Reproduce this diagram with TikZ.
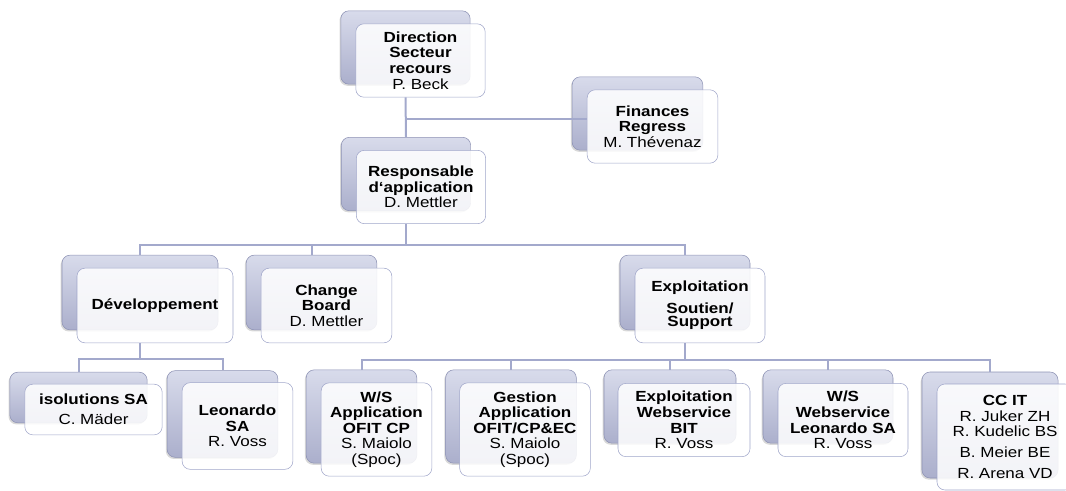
\documentclass[tikz,border=0pt]{standalone}
\usepackage{fontspec}
\newfontfamily\arialx[FakeStretch=1.16]{Liberation Sans}
\usetikzlibrary{positioning}
\usetikzlibrary{shadows}
\definecolor{backtop}{HTML}{D8DBEB}
\definecolor{backbot}{HTML}{ABAFCC}
\definecolor{backline}{HTML}{8D92B4}
\definecolor{frontline}{HTML}{A0A6CA}
\definecolor{linkcol}{HTML}{A3A9CC}

\begin{document}
\begin{tikzpicture}[x=0.75pt,y=-0.75pt,
  back/.style={rounded corners=6pt,draw=backline,top color=backtop,bottom color=backbot,
    drop shadow={shadow xshift=-1pt,shadow yshift=-1.2pt,opacity=0.3}},
  front/.style={rounded corners=6pt,draw=frontline,fill=white,fill opacity=0.86,text opacity=1,
    align=center,font=\arialx\fontsize{11}{11.7}\selectfont},
  box/.style 2 args={minimum width=#1,minimum height=#2,inner sep=0pt},
  link/.style={draw=linkcol,line width=1.5pt}]
\useasboundingbox (0,0) rectangle (1066,490);
\clip (0,0) rectangle (1066,490);

% top
\node[back,box={97pt}{55pt}] (dirB) at (405.5,47.5) {};
\node[front,box={97pt}{55pt}] (dir) at ([shift={(15,13)}]dirB) {\textbf{Direction}\\\textbf{Secteur}\\\textbf{recours}\\P. Beck};
\node[back,box={98pt}{55pt}] (finB) at (637.5,113.5) {};
\node[front,box={98pt}{55pt}] (fin) at ([shift={(15,13)}]finB) {\textbf{Finances}\\\textbf{Regress}\\M. Thévenaz};
\node[back,box={97pt}{55pt}] (respB) at (406,174) {};
\node[front,box={97pt}{55pt}] (resp) at ([shift={(15,13)}]respB) {\textbf{Responsable}\\\textbf{d‘application}\\D. Mettler};

% second row
\node[back,box={117pt}{56pt}] (devB) at (140,292.5) {};
\node[front,box={117pt}{56pt}] (dev) at ([shift={(15,13)}]devB) {\textbf{Développement}};
\node[back,box={98pt}{56pt}] (cbB) at (311.5,292.5) {};
\node[front,box={98pt}{56pt}] (cb) at ([shift={(15,13)}]cbB) {\textbf{Change}\\\textbf{Board}\\D. Mettler};
\node[back,box={97.5pt}{56pt}] (explB) at (685,292.5) {};
\node[front,box={97.5pt}{56pt}] (expl) at ([shift={(15,13)}]explB) {\textbf{Exploitation}\\[5pt]\textbf{Soutien/}\\[-2pt]\textbf{Support}};

% third row
\node[back,box={103pt}{38pt}] (isoB) at (78.5,397.5) {};
\node[front,box={103pt}{38pt}] (iso) at ([shift={(15,12)}]isoB) {\textbf{isolutions SA}\\[3pt]C. Mäder};
\node[back,box={83pt}{65pt}] (leoB) at (222.5,414) {};
\node[front,box={83pt}{65pt}] (leo) at ([shift={(15,12)}]leoB) {\textbf{Leonardo}\\\textbf{SA}\\R. Voss};
\node[back,box={83pt}{70pt}] (wsappB) at (361.5,416.5) {};
\node[front,box={83pt}{70pt}] (wsapp) at ([shift={(15,13)}]wsappB) {\textbf{W/S}\\\textbf{Application}\\\textbf{OFIT CP}\\S. Maiolo\\(Spoc)};
\node[back,box={98pt}{70pt}] (gestB) at (511,416.5) {};
\node[front,box={98pt}{70pt}] (gest) at ([shift={(14,13)}]gestB) {\textbf{Gestion}\\\textbf{Application}\\\textbf{OFIT/CP\&EC}\\S. Maiolo\\(Spoc)};
\node[back,box={99pt}{55pt}] (bitB) at (670,406.5) {};
\node[front,box={99pt}{55pt}] (bit) at ([shift={(14,13.5)}]bitB) {\textbf{Exploitation}\\\textbf{Webservice}\\\textbf{BIT}\\R. Voss};
\node[back,box={97.5pt}{55pt}] (wsleoB) at (828,406.5) {};
\node[front,box={97.5pt}{55pt}] (wsleo) at ([shift={(15,13.5)}]wsleoB) {\textbf{W/S}\\\textbf{Webservice}\\\textbf{Leonardo SA}\\R. Voss};
\node[back,box={102pt}{79.5pt}] (ccitB) at (990,425) {};
\node[front,box={102pt}{79.5pt}] (ccit) at ([shift={(15,12)}]ccitB) {\textbf{CC IT}\\R. Juker ZH\\R. Kudelic BS\\[4pt]B. Meier BE\\[4pt]R. Arena VD};

% connectors
\coordinate (finJ) at ([yshift=5.6pt]fin.west);
\coordinate (bus2) at (406,245);
\coordinate (bus3a) at (140,359);
\coordinate (bus3b) at (685,360);
\draw[link] (dirB.south |- dir.south) -- (respB.north);
\draw[link] (dirB.south |- finJ) -- (finJ);
\draw[link] (respB.south |- resp.south) -- (bus2);
\draw[link] (devB.north) |- (bus2) -| (explB.north);
\draw[link] (cbB.north) -- (cbB.north |- bus2);
\draw[link] (devB.south |- dev.south) -- (bus3a);
\draw[link] (isoB.north) |- (bus3a) -| (leoB.north);
\draw[link] (explB.south |- expl.south) -- (bus3b);
\draw[link] (wsappB.north) |- (bus3b) -| (ccitB.north);
\foreach \n in {gestB,bitB,wsleoB}
  \draw[link] (\n.north) -- (\n.north |- bus3b);

\end{tikzpicture}
\end{document}
